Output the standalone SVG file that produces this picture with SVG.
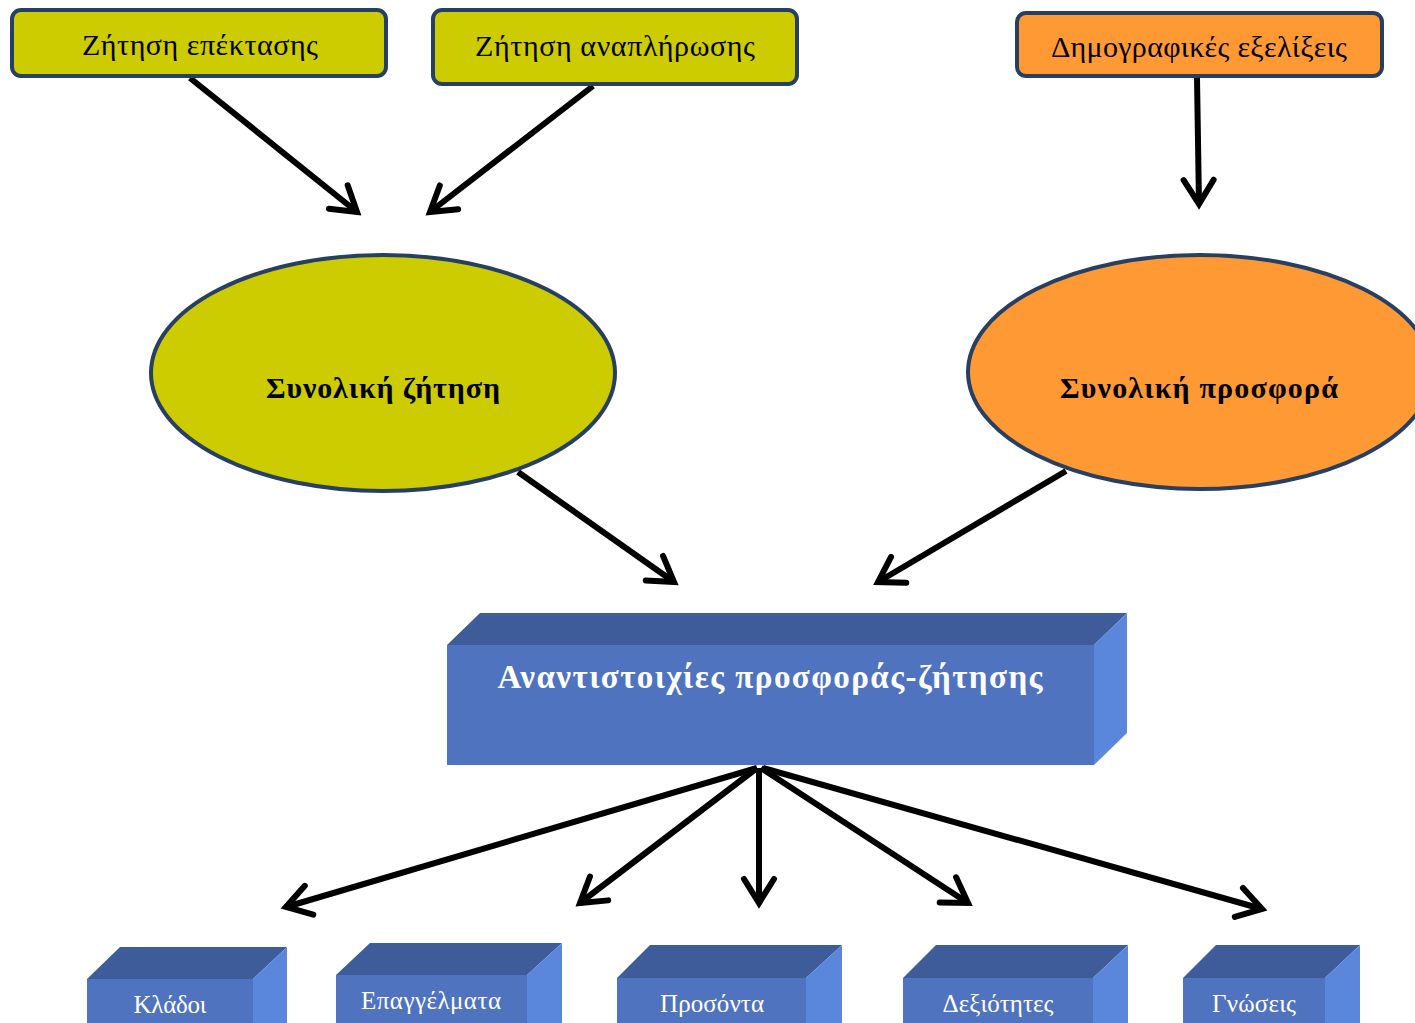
<svg xmlns="http://www.w3.org/2000/svg" width="1415" height="1023" viewBox="0 0 1415 1023">
<style>
.tb{stroke:#263F63;stroke-width:4}
.t{font-family:"Liberation Serif","DejaVu Serif",serif;text-anchor:middle}
.tt{font-size:30px;fill:#000}
.et{font-size:30px;font-weight:bold;fill:#000}
.wt{fill:#fff;font-size:25px}
.top{fill:#3E5C99}
.front{fill:#4F73BF}
.side{fill:#5A86DC}
.c{stroke:#000;stroke-width:6;fill:none;marker-end:url(#ah)}
</style>
<defs>
<marker id="ah" markerUnits="userSpaceOnUse" markerWidth="50" markerHeight="50" refX="30" refY="20" orient="auto" overflow="visible">
<path d="M6,5 L30,20 L6,35" fill="none" stroke="#000" stroke-width="6" stroke-linecap="round"/>
</marker>
</defs>
<rect width="1415" height="1023" fill="#fff"/>
<g id="connectors">
<line class="c" x1="190" y1="78" x2="357" y2="212"/>
<line class="c" x1="593" y1="86" x2="430" y2="212"/>
<line class="c" x1="1197" y1="78" x2="1199" y2="204"/>
<line class="c" x1="518" y1="472" x2="674" y2="582"/>
<line class="c" x1="1066" y1="471" x2="878" y2="582"/>
<line class="c" x1="757" y1="768" x2="286" y2="907"/>
<line class="c" x1="757" y1="768" x2="580" y2="903"/>
<line class="c" x1="759" y1="768" x2="759" y2="903"/>
<line class="c" x1="761" y1="768" x2="968" y2="903"/>
<line class="c" x1="763" y1="768" x2="1262" y2="909"/>
</g>
<g id="n-epektasi">
<rect class="tb" x="12" y="10" width="374" height="66" rx="9" fill="#CCCC00"/>
<text class="t tt" x="200" y="55" textLength="236">Ζήτηση επέκτασης</text>
</g>
<g id="n-anaplirosi">
<rect class="tb" x="433" y="10" width="364" height="74" rx="9" fill="#CCCC00"/>
<text class="t tt" x="615" y="56" textLength="280">Ζήτηση αναπλήρωσης</text>
</g>
<g id="n-dimografikes">
<rect class="tb" x="1017" y="13" width="365" height="63" rx="9" fill="#FF9933"/>
<text class="t tt" x="1199" y="57" textLength="296">Δημογραφικές εξελίξεις</text>
</g>
<g id="n-zitisi">
<ellipse class="tb" cx="383" cy="373" rx="232" ry="118" fill="#CCCC00"/>
<text class="t et" x="383" y="398" textLength="234">Συνολική ζήτηση</text>
</g>
<g id="n-prosfora">
<ellipse class="tb" cx="1200" cy="372" rx="232" ry="117" fill="#FF9933"/>
<text class="t et" x="1199" y="398" textLength="278">Συνολική προσφορά</text>
</g>
<g id="n-anantistoixies">
<polygon class="top" points="447,645 480,613 1127,613 1094,645"/>
<polygon class="side" points="1094,645 1127,613 1127,733 1094,765"/>
<rect class="front" x="447" y="645" width="647" height="120"/>
<text class="t" x="770" y="688" fill="#fff" font-size="33" font-weight="bold" textLength="545">Αναντιστοιχίες προσφοράς-ζήτησης</text>
</g>
<g id="n-kladoi">
<polygon class="top" points="87,979 120,947 287,947 253,979"/>
<polygon class="side" points="253,979 287,947 287,1023 253,1023"/>
<rect class="front" x="87" y="979" width="166" height="50"/>
<text class="t wt" x="170" y="1013" textLength="73">Κλάδοι</text>
</g>
<g id="n-epaggelmata">
<polygon class="top" points="336,975 370,943 562,943 527,975"/>
<polygon class="side" points="527,975 562,943 562,1023 527,1023"/>
<rect class="front" x="336" y="975" width="191" height="50"/>
<text class="t wt" x="431" y="1009" textLength="140">Επαγγέλματα</text>
</g>
<g id="n-prosonta">
<polygon class="top" points="617,978 650,945 842,945 806,978"/>
<polygon class="side" points="806,978 842,945 842,1023 806,1023"/>
<rect class="front" x="617" y="978" width="189" height="50"/>
<text class="t wt" x="712" y="1012" textLength="104">Προσόντα</text>
</g>
<g id="n-dexiotites">
<polygon class="top" points="903,978 936,945 1128,945 1093,978"/>
<polygon class="side" points="1093,978 1128,945 1128,1023 1093,1023"/>
<rect class="front" x="903" y="978" width="190" height="50"/>
<text class="t wt" x="998" y="1012" textLength="111">Δεξιότητες</text>
</g>
<g id="n-gnoseis">
<polygon class="top" points="1183,978 1216,945 1360,945 1325,978"/>
<polygon class="side" points="1325,978 1360,945 1360,1023 1325,1023"/>
<rect class="front" x="1183" y="978" width="142" height="50"/>
<text class="t wt" x="1254" y="1012" textLength="84">Γνώσεις</text>
</g>
</svg>
